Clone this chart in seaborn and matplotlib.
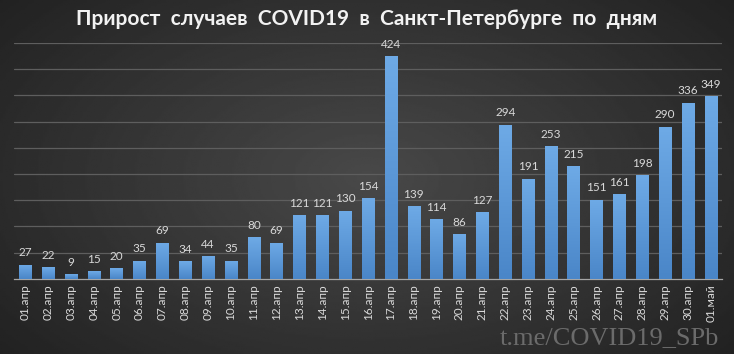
import numpy as np
import pandas as pd
import matplotlib
matplotlib.use('Agg')
import matplotlib.pyplot as plt
from matplotlib.colors import LinearSegmentedColormap
import seaborn as sns

# Data
dates = ['01.апр', '02.апр', '03.апр', '04.апр', '05.апр', '06.апр', '07.апр', '08.апр',
         '09.апр', '10.апр', '11.апр', '12.апр', '13.апр', '14.апр', '15.апр', '16.апр',
         '17.апр', '18.апр', '19.апр', '20.апр', '21.апр', '22.апр', '23.апр', '24.апр',
         '25.апр', '26.апр', '27.апр', '28.апр', '29.апр', '30.апр', '01.май']
new_cases = [27, 22, 9, 15, 20, 35, 69, 34, 44, 35, 80, 69, 121, 121, 130, 154,
             424, 139, 114, 86, 127, 294, 191, 253, 215, 151, 161, 198, 290, 336, 349]

df = pd.DataFrame({'date': dates, 'cases': new_cases})

sns.set_style('dark')
plt.rcParams['font.family'] = ['Lato', 'DejaVu Sans']

fig = plt.figure(figsize=(7.34, 3.54), dpi=100)

# Radial gradient background
bg_ax = fig.add_axes([0, 0, 1, 1])
yy, xx = np.mgrid[-1:1:200j, -1:1:400j]
r = np.sqrt((xx * 0.9) ** 2 + (yy * 0.75) ** 2)
bg = np.clip(0.285 - 0.13 * r, 0.12, 0.3)
bg_ax.imshow(bg, cmap='gray', vmin=0, vmax=1, aspect='auto', extent=[0, 1, 0, 1])
bg_ax.set_axis_off()

ax = fig.add_axes([0.019, 0.212, 0.965, 0.667])
ax.patch.set_alpha(0)

sns.barplot(data=df, x='date', y='cases', color='#5b9bd5', width=0.55,
            saturation=1, linewidth=0, ax=ax, zorder=3)

# vertical gradient fill for each bar
bar_cmap = LinearSegmentedColormap.from_list('bar', ['#4a86c8', '#6eaae6'])
grad = np.linspace(0, 1, 100).reshape(-1, 1)
for p in ax.patches:
    x0, y0 = p.get_x(), p.get_y()
    w, h = p.get_width(), p.get_height()
    im = ax.imshow(grad, cmap=bar_cmap, origin='lower', aspect='auto',
                   extent=[x0, x0 + w, y0, y0 + h], zorder=3.5)
    im.set_clip_path(p)
    p.set_facecolor('none')

# Value labels
for i, v in enumerate(new_cases):
    ax.text(i, v + 12, str(v), ha='center', va='bottom', fontsize=8.5,
            color='#d9d9d9')

ax.set_ylim(0, 450)
ax.set_xlim(-0.5, len(dates) - 0.5)
ax.set_yticks(np.arange(50, 451, 50))
ax.set_yticklabels([])
ax.tick_params(axis='y', length=0)
ax.grid(axis='y', color='#5e5e5e', linewidth=0.9, zorder=0)
ax.grid(axis='x', visible=False)

ax.set_xticks(range(len(dates)))
ax.set_xticklabels(dates, rotation=90, fontsize=8.5, color='#d9d9d9')
ax.tick_params(axis='x', length=0, pad=4)
# tick marks between categories
ax.set_xticks(np.arange(-0.5, len(dates), 1), minor=True)
ax.tick_params(axis='x', which='minor', length=4, color='#a6a6a6', width=0.8)

for side in ['top', 'right', 'left']:
    ax.spines[side].set_visible(False)
ax.spines['bottom'].set_color('#a6a6a6')
ax.spines['bottom'].set_linewidth(0.9)
ax.set_xlabel('')
ax.set_ylabel('')

fig.text(0.5, 0.945, 'Прирост  случаев  COVID19  в  Санкт-Петербурге  по  дням',
         ha='center', va='center', fontsize=15, fontweight='bold', color='#f2f2f2')

fig.text(0.98, 0.045, 't.me/COVID19_SPb', ha='right', va='center',
         fontsize=19, color='#6b6b6b', family=['Liberation Serif', 'DejaVu Serif'])

fig.savefig('out.png', dpi=100)
